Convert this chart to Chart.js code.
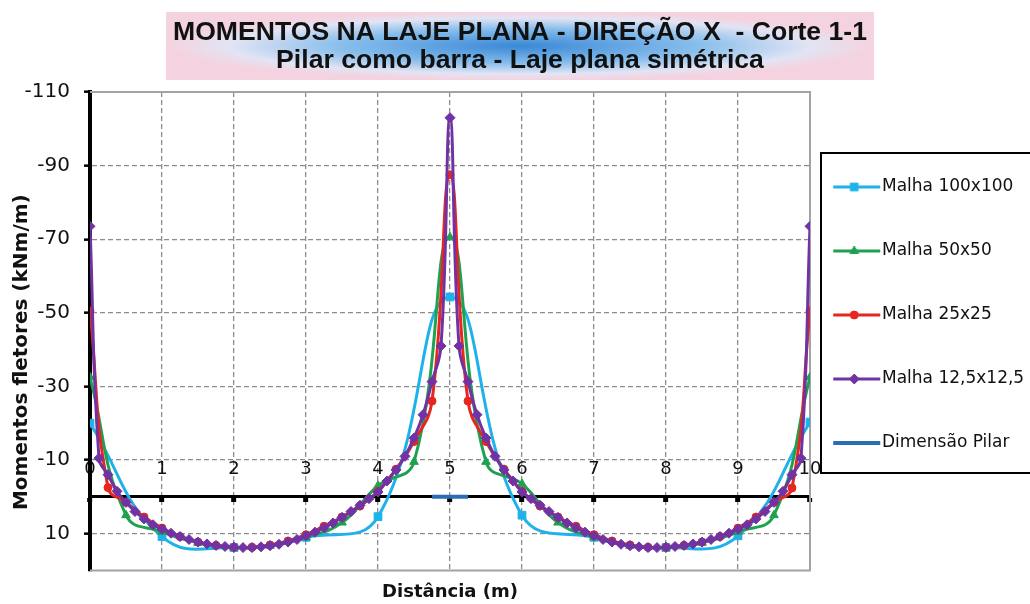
<!DOCTYPE html>
<html lang="pt">
<head>
<meta charset="utf-8">
<title>Momentos na laje plana - direção X</title>
<script src="https://cdn.jsdelivr.net/npm/chart.js@4.4.1/dist/chart.umd.min.js"></script>
<style>
  html, body { margin: 0; padding: 0; background: #ffffff; }
  #quadro { width: 1030px; height: 604px; }
</style>
</head>
<body>
<div id="quadro"><canvas id="grafico" width="1030" height="604"></canvas></div>
<script>
// Textos do gráfico
const tituloLinhas = ['MOMENTOS NA LAJE PLANA - DIREÇÃO X  - Corte 1-1', 'Pilar como barra - Laje plana simétrica'];
const tituloEixoX = 'Distância (m)';
const tituloEixoY = 'Momentos fletores (kNm/m)';
const nomesSeries = ['Malha 100x100', 'Malha 50x50', 'Malha 25x25', 'Malha 12,5x12,5', 'Dimensão Pilar'];

// Marcas dos eixos
const marcasX = [0, 1, 2, 3, 4, 5, 6, 7, 8, 9, 10];
const marcasY = [-110, -90, -70, -50, -30, -10, 10];

// Malha 100x100 (espaçamento 1 m)
const xMalha100 = [0, 1, 2, 3, 4, 5, 6, 7, 8, 9, 10];
const yMalha100 = [-20, 10.8, 13.8, 11, 5.4, -54.3, 5, 11, 13.8, 10.6, -20.3];

// Malha 50x50 (espaçamento 0,5 m)
const xMalha50 = [0, 0.5, 1, 1.5, 2, 2.5, 3, 3.5, 4, 4.5, 5, 5.5, 6, 6.5, 7, 7.5, 8, 8.5, 9, 9.5, 10];
const yMalha50 = [-32.5, 5, 9.5, 12.5, 13.8, 13.3, 11, 7, -3, -9.5, -70.5, -9.5, -3.5, 7, 11, 13.3, 13.8, 12.5, 9.5, 5, -32.5];

// Malha 25x25 (espaçamento 0,25 m)
const xMalha25 = [0, 0.25, 0.5, 0.75, 1, 1.25, 1.5, 1.75, 2, 2.25, 2.5, 2.75, 3, 3.25, 3.5, 3.75, 4, 4.25, 4.5, 4.75,
                  5, 5.25, 5.5, 5.75, 6, 6.25, 6.5, 6.75, 7, 7.25, 7.5, 7.75, 8, 8.25, 8.5, 8.75, 9, 9.25, 9.5, 9.75, 10];
const yMalha25 = [-50.5, -2.5, 1.5, 5.5, 8.5, 10.8, 12.3, 13.2, 13.7, 13.7, 13.1, 12, 10.3, 8, 5.5, 2.5, -1.5, -7.5, -15, -26,
                  -87.5, -26, -15, -7.5, -1.5, 2.5, 5.5, 8, 10.3, 12, 13.1, 13.7, 13.7, 13.2, 12.3, 10.8, 8.5, 5.5, 1.5, -2.4, -50.5];

// Malha 12,5x12,5 (espaçamento 0,125 m)
const xMalha125 = [0, 0.125, 0.25, 0.375, 0.5, 0.625, 0.75, 0.875, 1, 1.125, 1.25, 1.375, 1.5, 1.625, 1.75, 1.875,
                   2, 2.125, 2.25, 2.375, 2.5, 2.625, 2.75, 2.875, 3, 3.125, 3.25, 3.375, 3.5, 3.625, 3.75, 3.875,
                   4, 4.125, 4.25, 4.375, 4.5, 4.625, 4.75, 4.875, 5, 5.125, 5.25, 5.375, 5.5, 5.625, 5.75, 5.875,
                   6, 6.125, 6.25, 6.375, 6.5, 6.625, 6.75, 6.875, 7, 7.125, 7.25, 7.375, 7.5, 7.625, 7.75, 7.875,
                   8, 8.125, 8.25, 8.375, 8.5, 8.625, 8.75, 8.875, 9, 9.125, 9.25, 9.375, 9.5, 9.625, 9.75, 9.875, 10];
const yMalha125 = [-73.5, -10.5, -6, -1.5, 1.5, 4, 6, 7.6, 8.8, 9.9, 10.8, 11.6, 12.3, 12.8, 13.2, 13.5,
                   13.7, 13.8, 13.8, 13.6, 13.3, 12.9, 12.3, 11.6, 10.6, 9.6, 8.4, 7.1, 5.6, 4, 2.3, 0.5,
                   -1.3, -4.3, -7.3, -11, -16, -22.3, -31.3, -41, -103, -41, -31.3, -22.3, -16, -11, -7.3, -4.3,
                   -1.3, 0.5, 2.3, 4, 5.6, 7.1, 8.4, 9.6, 10.6, 11.6, 12.3, 12.9, 13.3, 13.6, 13.8, 13.8,
                   13.7, 13.5, 13.2, 12.8, 12.3, 11.6, 10.8, 9.9, 8.8, 7.6, 6, 4, 1.5, -1.5, -6, -10.5, -73.5];

// Largura do pilar central
const xPilar = [4.75, 5.25];
const yPilar = [0, 0];

const cores = ['#1fb2ea', '#1fa24f', '#e6261f', '#7133a3', '#2b6db5'];
const estilos = ['rect', 'triangle', 'circle', 'rectRot', false];
const raios = [5.5, 5, 4, 5, 0];

const pontos = (xs, ys) => xs.map((x, i) => ({ x: x, y: ys[i] }));

// Ícone da legenda: traço com o marcador no meio
function iconeLegenda(i) {
  const c = document.createElement('canvas');
  c.width = 66; c.height = 14;
  const g = c.getContext('2d');
  g.strokeStyle = cores[i];
  g.fillStyle = cores[i];
  g.lineWidth = i === 4 ? 4 : 3;
  g.beginPath(); g.moveTo(1, 7); g.lineTo(48, 7); g.stroke();
  if (estilos[i]) {
    g.lineWidth = 1;
    Chart.helpers.drawPoint(g, { pointStyle: estilos[i], radius: raios[i], rotation: 0, borderWidth: 1 }, 22, 7);
  }
  return c;
}
const icones = nomesSeries.map((_, i) => iconeLegenda(i));

function serie(i, xs, ys, ordem) {
  return {
    label: nomesSeries[i],
    data: pontos(xs, ys),
    borderColor: cores[i],
    backgroundColor: cores[i],
    borderWidth: i === 4 ? 4 : 3,
    pointStyle: estilos[i] || 'circle',
    pointRadius: raios[i],
    pointBackgroundColor: cores[i],
    pointBorderColor: cores[i],
    pointBorderWidth: 1,
    tension: i === 4 ? 0 : 0.45,
    fill: false,
    order: ordem
  };
}

// Fundo degradê atrás do título
const fundoTitulo = {
  id: 'fundoTitulo',
  beforeDraw(chart) {
    const tb = chart.titleBlock;
    if (!tb) return;
    const ctx = chart.ctx;
    ctx.save();
    ctx.font = 'bold 26.6px "Liberation Sans", Arial, sans-serif';
    const w = Math.max(...tituloLinhas.map(t => ctx.measureText(t).width)) + 14;
    const h = 68;
    const cx = (tb.left + tb.right) / 2;
    const cy = tb.top + 12 + h / 2;
    ctx.translate(cx, cy);
    ctx.scale(1, h / w);
    const g = ctx.createRadialGradient(0, 0, 0, 0, 0, w / 2);
    g.addColorStop(0, '#3a88d6');
    g.addColorStop(0.5, '#86bdeb');
    g.addColorStop(0.82, '#e2e4f4');
    g.addColorStop(1, '#f5d2df');
    ctx.fillStyle = g;
    ctx.fillRect(-w / 2, -w / 2, w, w);
    ctx.restore();
  }
};

// Moldura cinza da área de plotagem
const moldura = {
  id: 'moldura',
  beforeDatasetsDraw(chart) {
    const a = chart.chartArea;
    const ctx = chart.ctx;
    ctx.save();
    ctx.strokeStyle = '#a3a3a3';
    ctx.lineWidth = 2;
    ctx.beginPath();
    ctx.moveTo(a.left, a.top); ctx.lineTo(a.right, a.top);
    ctx.lineTo(a.right, a.bottom); ctx.lineTo(a.left, a.bottom);
    ctx.stroke();
    ctx.restore();
  }
};

// Título do eixo vertical, na faixa à esquerda dos valores
const tituloVertical = {
  id: 'tituloVertical',
  afterDraw(chart) {
    const ey = chart.scales.y;
    const a = chart.chartArea;
    const ctx = chart.ctx;
    ctx.save();
    ctx.translate(ey.left + 12, (a.top + a.bottom) / 2 + 21);
    ctx.rotate(-Math.PI / 2);
    ctx.font = 'bold 20px "DejaVu Sans", sans-serif';
    ctx.fillStyle = '#111';
    ctx.textAlign = 'center';
    ctx.textBaseline = 'middle';
    ctx.fillText(tituloEixoY, 0, 0);
    ctx.restore();
  }
};

// Caixa com borda em volta da legenda
const caixaLegenda = {
  id: 'caixaLegenda',
  afterDraw(chart) {
    const lg = chart.legend;
    if (!lg || !lg.legendHitBoxes || !lg.legendHitBoxes.length) return;
    const hb = lg.legendHitBoxes;
    const ctx = chart.ctx;
    const esq = lg.left + 11;
    const topo = hb[0].top - 25.5;
    const base = hb[hb.length - 1].top + hb[hb.length - 1].height + 21.5;
    ctx.save();
    ctx.strokeStyle = '#000';
    ctx.lineWidth = 2;
    ctx.strokeRect(esq, topo, chart.width + 20 - esq, base - topo);
    ctx.restore();
  }
};

Chart.defaults.font.family = '"DejaVu Sans", sans-serif';
Chart.defaults.color = '#111';

new Chart(document.getElementById('grafico'), {
  type: 'line',
  data: {
    datasets: [
      serie(0, xMalha100, yMalha100, 4),
      serie(1, xMalha50, yMalha50, 3),
      serie(2, xMalha25, yMalha25, 2),
      serie(3, xMalha125, yMalha125, 1),
      serie(4, xPilar, yPilar, 0)
    ]
  },
  options: {
    responsive: false,
    animation: false,
    events: [],
    layout: { padding: { left: 10, right: 0, top: 0, bottom: 0 } },
    scales: {
      x: {
        type: 'linear',
        min: 0, max: 10,
        position: { y: 0 },
        afterBuildTicks: s => { s.ticks = marcasX.map(v => ({ value: v })); },
        ticks: { font: { size: 18 }, color: '#111', padding: -42, maxRotation: 0, autoSkip: false },
        grid: { color: '#8c8c8c', lineWidth: 1.3, tickLength: 4, tickWidth: 5, tickColor: '#000' },
        border: { display: true, color: '#000', width: 3, dash: [5, 3] }
      },
      y: {
        type: 'linear',
        position: 'left',
        reverse: true,
        min: -110, max: 20,
        afterBuildTicks: s => { s.ticks = marcasY.map(v => ({ value: v })); },
        afterFit: s => { s.width = 80; },
        ticks: { font: { size: 20 }, color: '#111', padding: 14 },
        grid: { color: '#8c8c8c', lineWidth: 1.3, tickLength: 6, tickWidth: 2.5, tickColor: '#000' },
        border: { display: true, color: '#000', width: 4, dash: [5, 3] }
      },
      xb: {
        type: 'linear',
        position: 'bottom',
        min: 0, max: 10,
        ticks: { display: false },
        grid: { display: false, drawTicks: false },
        border: { display: false },
        title: { display: true, text: tituloEixoX, font: { size: 18, weight: 'bold' }, color: '#111', padding: { top: 11, bottom: 1 } }
      }
    },
    plugins: {
      title: {
        display: true,
        text: tituloLinhas,
        font: { family: '"Liberation Sans", Arial, sans-serif', size: 26.6, weight: 'bold', lineHeight: 28 / 26.6 },
        color: '#111',
        padding: { top: 19, bottom: 17 }
      },
      legend: {
        position: 'right',
        align: 'start',
        maxWidth: 220,
        title: { display: true, text: '', font: { size: 10, lineHeight: 1 }, padding: { top: 121.5, bottom: 0 } },
        labels: {
          font: { size: 17 },
          color: '#111',
          padding: 47,
          usePointStyle: true,
          pointStyleWidth: 16.5,
          sort: (a, b) => a.datasetIndex - b.datasetIndex,
          generateLabels: chart => Chart.defaults.plugins.legend.labels.generateLabels(chart)
            .map(it => Object.assign(it, { pointStyle: icones[it.datasetIndex], rotation: 0 }))
        }
      },
      tooltip: { enabled: false }
    }
  },
  plugins: [fundoTitulo, moldura, tituloVertical, caixaLegenda]
});
</script>
</body>
</html>
